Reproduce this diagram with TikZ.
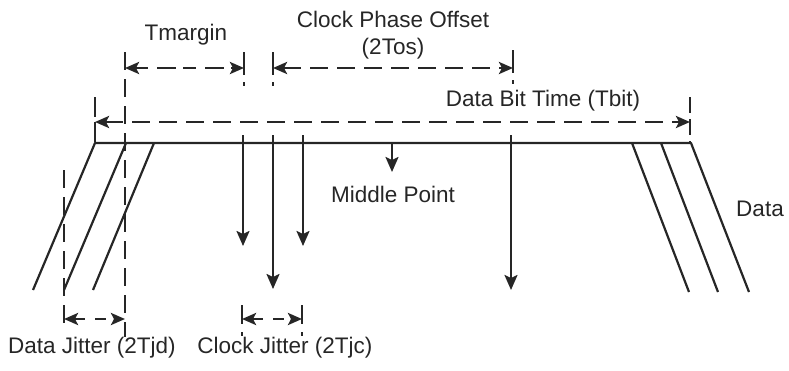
\documentclass[tikz,border=0pt]{standalone}
\usepackage{fontspec}
\setmainfont{Liberation Sans}
\usetikzlibrary{arrows.meta}
\begin{document}
\begin{tikzpicture}[x=1pt,y=-1pt,
  lbl/.style={inner sep=0pt, font=\fontsize{22.5}{26}\selectfont, text=black!85},
  sig/.style={line width=2.2pt, draw=black!85, line join=round},
  dsh/.style={line width=2.7pt, draw=black!85, dash pattern=on 18pt off 9pt},
  clk/.style={line width=2.2pt, draw=black!85, -{Stealth[length=15pt,width=13pt,inset=3pt]}, fill=black!85},
  dimarrow/.style={dsh, {Stealth[length=14pt,width=12pt,inset=3pt]}-{Stealth[length=14pt,width=12pt,inset=3pt]}},
  ]
\useasboundingbox (0,0) rectangle (789,370);

% data waveform
\coordinate (a1) at (33,290);  \coordinate (a2) at (95,143);
\coordinate (b1) at (64,290);  \coordinate (b2) at (126,143);
\coordinate (c1) at (93,290);  \coordinate (c2) at (154,143);
\coordinate (d1) at (689,292); \coordinate (d2) at (632,143);
\coordinate (e1) at (718,292); \coordinate (e2) at (661,143);
\coordinate (f1) at (749,292); \coordinate (f2) at (691,143);
\draw[sig] (a1) -- (a2) -- (f2) -- (f1);
\draw[sig] (b1) -- (b2);
\draw[sig] (c1) -- (c2);
\draw[sig] (d1) -- (d2);
\draw[sig] (e1) -- (e2);

% clock edges
\coordinate (k1s) at (243,135); \coordinate (k1e) at (243,246);
\coordinate (k2s) at (273,135); \coordinate (k2e) at (273,289);
\coordinate (k3s) at (303,135); \coordinate (k3e) at (303,246);
\coordinate (k4s) at (511,135); \coordinate (k4e) at (511,290);
\coordinate (mps) at (392,143); \coordinate (mpe) at (392,172);
\draw[clk] (k1s) -- (k1e);
\draw[clk] (k2s) -- (k2e);
\draw[clk] (k3s) -- (k3e);
\draw[clk] (k4s) -- (k4e);
\draw[clk] (mps) -- (mpe);

% dashed markers
\coordinate (v1t) at (125,52);  \coordinate (v1b) at (125,337);
\coordinate (v2t) at (64,170);  \coordinate (v2b) at (64,327);
\coordinate (v3t) at (95,97);   \coordinate (v3b) at (95,143);
\coordinate (v4t) at (690,97);  \coordinate (v4b) at (690,143);
\coordinate (v5t) at (244,52);  \coordinate (v5b) at (244,86);
\coordinate (v6t) at (273,52);  \coordinate (v6b) at (273,86);
\coordinate (v7t) at (513,50);  \coordinate (v7b) at (513,84);
\coordinate (v8t) at (242,305); \coordinate (v8b) at (242,336);
\coordinate (v9t) at (302,305); \coordinate (v9b) at (302,336);
\draw[dsh] (v1t) -- (v1b);
\draw[dsh] (v2t) -- (v2b);
\draw[dsh, dash pattern=on 20pt off 5pt] (v3t) -- (v3b);
\draw[dsh, dash pattern=on 16pt off 6pt] (v4t) -- (v4b);
\foreach \v in {v5,v6,v7}
  \draw[dsh, dash pattern=on 23pt off 7pt] (\v t) -- (\v b);
\foreach \v in {v8,v9}
  \draw[dsh, dash pattern=on 19pt off 8pt] (\v t) -- (\v b);

% dimension arrows
\coordinate (tbL) at (95,122);  \coordinate (tbR) at (690,122);
\coordinate (tmL) at (125,68);  \coordinate (tmR) at (244,68);
\coordinate (coL) at (273,68);  \coordinate (coR) at (513,68);
\coordinate (djL) at (64,319);  \coordinate (djR) at (125,319);
\coordinate (cjL) at (242,319); \coordinate (cjR) at (302,319);
\draw[dimarrow] (tbL) -- (tbR);
\draw[dimarrow, dash pattern=on 13pt off 9pt on 19pt off 7pt] (tmL) -- (tmR);
\draw[dimarrow] (coL) -- (coR);
\draw[dimarrow, dash pattern=on 11pt off 10pt] (djL) -- (djR);
\draw[dimarrow, dash pattern=on 11pt off 10pt] (cjL) -- (cjR);

% labels
\node[lbl] (tmargin) at (186,35) {Tmargin};
\node[lbl] (cpo) at (393,19) {Clock Phase Offset};
\node[lbl] (tos) at (393,49) {(2Tos)};
\node[lbl] (tbit) at (543,101) {Data Bit Time (Tbit)};
\node[lbl] (mid) at (393,194) {Middle Point};
\node[lbl] (data) at (760,209) {Data};
\node[lbl] (tjd) at (92,348) {Data Jitter (2Tjd)};
\node[lbl] (tjc) at (285,348) {Clock Jitter (2Tjc)};
\end{tikzpicture}
\end{document}
